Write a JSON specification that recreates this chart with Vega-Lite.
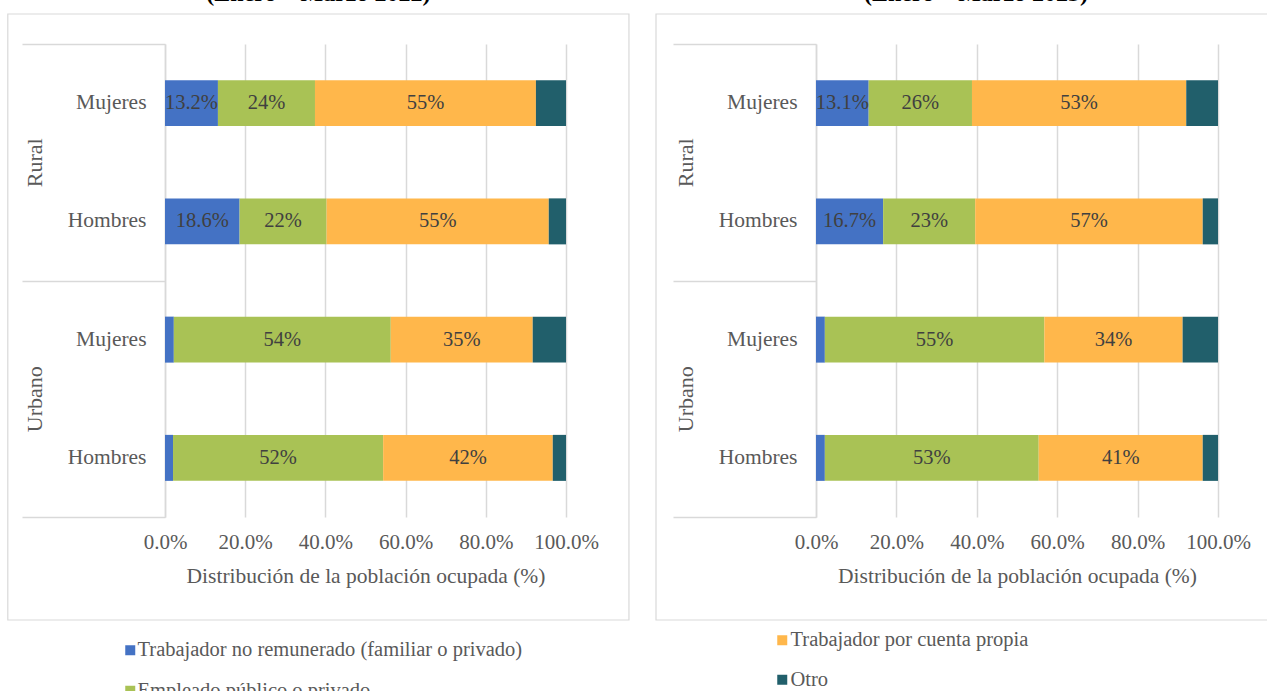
{
  "$schema": "https://vega.github.io/schema/vega-lite/v6.json",
  "padding": {"left": 7, "top": -18, "right": 0, "bottom": 0},
  "background": "white",
  "config": {"font": "Liberation Serif", "view": {"stroke": null}},
  "data": {"values": [
    {"anio": 2022, "area": "Rural", "sexo": "Mujeres", "cat": "Trabajador no remunerado (familiar o privado)", "v": 13.2},
    {"anio": 2022, "area": "Rural", "sexo": "Mujeres", "cat": "Empleado público o privado", "v": 24.2},
    {"anio": 2022, "area": "Rural", "sexo": "Mujeres", "cat": "Trabajador por cuenta propia", "v": 55.1},
    {"anio": 2022, "area": "Rural", "sexo": "Mujeres", "cat": "Otro", "v": 7.5},
    {"anio": 2022, "area": "Rural", "sexo": "Hombres", "cat": "Trabajador no remunerado (familiar o privado)", "v": 18.6},
    {"anio": 2022, "area": "Rural", "sexo": "Hombres", "cat": "Empleado público o privado", "v": 21.7},
    {"anio": 2022, "area": "Rural", "sexo": "Hombres", "cat": "Trabajador por cuenta propia", "v": 55.4},
    {"anio": 2022, "area": "Rural", "sexo": "Hombres", "cat": "Otro", "v": 4.3},
    {"anio": 2022, "area": "Urbano", "sexo": "Mujeres", "cat": "Trabajador no remunerado (familiar o privado)", "v": 2.2},
    {"anio": 2022, "area": "Urbano", "sexo": "Mujeres", "cat": "Empleado público o privado", "v": 54.1},
    {"anio": 2022, "area": "Urbano", "sexo": "Mujeres", "cat": "Trabajador por cuenta propia", "v": 35.4},
    {"anio": 2022, "area": "Urbano", "sexo": "Mujeres", "cat": "Otro", "v": 8.3},
    {"anio": 2022, "area": "Urbano", "sexo": "Hombres", "cat": "Trabajador no remunerado (familiar o privado)", "v": 2.0},
    {"anio": 2022, "area": "Urbano", "sexo": "Hombres", "cat": "Empleado público o privado", "v": 52.4},
    {"anio": 2022, "area": "Urbano", "sexo": "Hombres", "cat": "Trabajador por cuenta propia", "v": 42.3},
    {"anio": 2022, "area": "Urbano", "sexo": "Hombres", "cat": "Otro", "v": 3.3},
    {"anio": 2023, "area": "Rural", "sexo": "Mujeres", "cat": "Trabajador no remunerado (familiar o privado)", "v": 13.1},
    {"anio": 2023, "area": "Rural", "sexo": "Mujeres", "cat": "Empleado público o privado", "v": 25.7},
    {"anio": 2023, "area": "Rural", "sexo": "Mujeres", "cat": "Trabajador por cuenta propia", "v": 53.3},
    {"anio": 2023, "area": "Rural", "sexo": "Mujeres", "cat": "Otro", "v": 7.9},
    {"anio": 2023, "area": "Rural", "sexo": "Hombres", "cat": "Trabajador no remunerado (familiar o privado)", "v": 16.7},
    {"anio": 2023, "area": "Rural", "sexo": "Hombres", "cat": "Empleado público o privado", "v": 22.9},
    {"anio": 2023, "area": "Rural", "sexo": "Hombres", "cat": "Trabajador por cuenta propia", "v": 56.6},
    {"anio": 2023, "area": "Rural", "sexo": "Hombres", "cat": "Otro", "v": 3.8},
    {"anio": 2023, "area": "Urbano", "sexo": "Mujeres", "cat": "Trabajador no remunerado (familiar o privado)", "v": 2.2},
    {"anio": 2023, "area": "Urbano", "sexo": "Mujeres", "cat": "Empleado público o privado", "v": 54.6},
    {"anio": 2023, "area": "Urbano", "sexo": "Mujeres", "cat": "Trabajador por cuenta propia", "v": 34.4},
    {"anio": 2023, "area": "Urbano", "sexo": "Mujeres", "cat": "Otro", "v": 8.8},
    {"anio": 2023, "area": "Urbano", "sexo": "Hombres", "cat": "Trabajador no remunerado (familiar o privado)", "v": 2.2},
    {"anio": 2023, "area": "Urbano", "sexo": "Hombres", "cat": "Empleado público o privado", "v": 53.2},
    {"anio": 2023, "area": "Urbano", "sexo": "Hombres", "cat": "Trabajador por cuenta propia", "v": 40.8},
    {"anio": 2023, "area": "Urbano", "sexo": "Hombres", "cat": "Otro", "v": 3.8}
  ]},
  "spacing": 25,
  "resolve": {"scale": {"color": "independent"}, "legend": {"color": "independent"}},
  "hconcat": [
    {
      "width": 401, "height": 473,
      "title": {"text": "(Enero – Marzo 2022)", "fontSize": 24, "fontWeight": "bold", "font": "Liberation Serif", "color": "#000000", "offset": 7, "anchor": "middle", "frame": "bounds"},
      "transform": [
        {"filter": "datum.anio == 2022"},
        {"calculate": "indexof(['Trabajador no remunerado (familiar o privado)','Empleado público o privado','Trabajador por cuenta propia','Otro'], datum.cat)", "as": "ord"},
        {"calculate": "datum.area + '|' + datum.sexo", "as": "key"},
        {"stack": "v", "groupby": ["key"], "sort": [{"field": "ord", "order": "ascending"}], "as": ["x0", "x1"], "offset": "normalize"},
        {"calculate": "(datum.x0 + datum.x1) / 2", "as": "xm"},
        {"calculate": "datum.ord == 0 ? format(datum.v, '.1f') + '%' : format(datum.v, '.0f') + '%'", "as": "lbl"}
      ],
      "resolve": {"scale": {"x": "independent", "y": "independent"}, "axis": {"x": "independent", "y": "independent"}},
      "layer": [
        {
          "data": {"values": [{}]},
          "mark": {"type": "rect", "fill": "transparent", "stroke": "#d9d9d9", "strokeWidth": 1.2},
          "encoding": {
            "x": {"datum": -0.392, "type": "quantitative", "scale": {"domain": [0, 1], "nice": false, "zero": false}, "axis": null},
            "x2": {"datum": 1.157},
            "y": {"datum": 1.0634, "type": "quantitative", "scale": {"domain": [0, 1], "nice": false, "zero": false}, "axis": null},
            "y2": {"datum": -0.2178}
          }
        },
        {
          "mark": {"type": "point", "opacity": 0},
          "encoding": {
            "y": {"field": "area", "type": "nominal", "scale": {"domain": ["Rural", "Urbano"], "paddingInner": 0, "paddingOuter": 0},
              "axis": {"orient": "left", "title": null, "domain": false, "ticks": true, "tickBand": "extent", "tickExtra": true, "tickSize": 143, "tickColor": "#d9d9d9", "tickWidth": 1.5, "labelAngle": -90, "labelAlign": "center", "labelBaseline": "middle", "labelPadding": -12, "labelFontSize": 22, "labelColor": "#595959", "grid": false}}
          }
        },
        {
          "layer": [
            {
              "mark": {"type": "bar"},
              "encoding": {
                "y": {"field": "key", "type": "nominal", "scale": {"domain": ["Rural|Mujeres", "Rural|Hombres", "Urbano|Mujeres", "Urbano|Hombres"], "paddingInner": 0.611, "paddingOuter": 0.3055},
                  "axis": {"title": null, "orient": "left", "labelExpr": "split(datum.label, '|')[1]", "ticks": false, "domain": true, "domainColor": "#d9d9d9", "domainWidth": 1.5, "labelPadding": 19, "labelFontSize": 21.5, "labelColor": "#595959", "grid": false}},
                "x": {"field": "x0", "type": "quantitative", "scale": {"domain": [0, 1], "nice": false},
                  "axis": {"values": [0, 0.2, 0.4, 0.6, 0.8, 1], "format": ".1%", "grid": true, "gridColor": "#d9d9d9", "gridWidth": 1.5, "domain": false, "ticks": false, "labelFlush": false, "labelFontSize": 21, "labelColor": "#595959", "labelPadding": 14, "title": "Distribución de la población ocupada (%)", "titleFontSize": 21.5, "titleFontWeight": "normal", "titleColor": "#595959", "titlePadding": 13}},
                "x2": {"field": "x1"},
                "color": {"field": "cat", "type": "nominal",
                  "scale": {"domain": ["Trabajador no remunerado (familiar o privado)", "Empleado público o privado", "Trabajador por cuenta propia", "Otro"], "range": ["#4472C4", "#A9C255", "#FFB74B", "#215F6B"]},
                  "legend": {"values": ["Trabajador no remunerado (familiar o privado)", "Empleado público o privado"], "orient": "none", "legendX": -45, "legendY": 596, "padding": 0, "title": null, "direction": "vertical", "labelFontSize": 20.5, "labelColor": "#595959", "labelFont": "Liberation Serif", "symbolType": "square", "symbolSize": 100, "symbolStrokeWidth": 0, "rowPadding": 19.5, "labelOffset": -3, "labelLimit": 600}}
              }
            },
            {
              "transform": [{"filter": "datum.v >= 10"}],
              "mark": {"type": "text", "fontSize": 20.5, "color": "#404040", "font": "Liberation Serif"},
              "encoding": {
                "y": {"field": "key", "type": "nominal"},
                "x": {"field": "xm", "type": "quantitative"},
                "text": {"field": "lbl"}
              }
            }
          ]
        }
      ]
    },
    {
      "width": 402, "height": 473,
      "title": {"text": "(Enero – Marzo 2023)", "fontSize": 24, "fontWeight": "bold", "font": "Liberation Serif", "color": "#000000", "offset": 7, "anchor": "middle", "frame": "bounds"},
      "transform": [
        {"filter": "datum.anio == 2023"},
        {"calculate": "indexof(['Trabajador no remunerado (familiar o privado)','Empleado público o privado','Trabajador por cuenta propia','Otro'], datum.cat)", "as": "ord"},
        {"calculate": "datum.area + '|' + datum.sexo", "as": "key"},
        {"stack": "v", "groupby": ["key"], "sort": [{"field": "ord", "order": "ascending"}], "as": ["x0", "x1"], "offset": "normalize"},
        {"calculate": "(datum.x0 + datum.x1) / 2", "as": "xm"},
        {"calculate": "datum.ord == 0 ? format(datum.v, '.1f') + '%' : format(datum.v, '.0f') + '%'", "as": "lbl"}
      ],
      "resolve": {"scale": {"x": "independent", "y": "independent"}, "axis": {"x": "independent", "y": "independent"}},
      "layer": [
        {
          "data": {"values": [{}]},
          "mark": {"type": "rect", "fill": "transparent", "stroke": "#d9d9d9", "strokeWidth": 1.2},
          "encoding": {
            "x": {"datum": -0.398, "type": "quantitative", "scale": {"domain": [0, 1], "nice": false, "zero": false}, "axis": null},
            "x2": {"datum": 1.194},
            "y": {"datum": 1.0634, "type": "quantitative", "scale": {"domain": [0, 1], "nice": false, "zero": false}, "axis": null},
            "y2": {"datum": -0.2178}
          }
        },
        {
          "mark": {"type": "point", "opacity": 0},
          "encoding": {
            "y": {"field": "area", "type": "nominal", "scale": {"domain": ["Rural", "Urbano"], "paddingInner": 0, "paddingOuter": 0},
              "axis": {"orient": "left", "title": null, "domain": false, "ticks": true, "tickBand": "extent", "tickExtra": true, "tickSize": 143, "tickColor": "#d9d9d9", "tickWidth": 1.5, "labelAngle": -90, "labelAlign": "center", "labelBaseline": "middle", "labelPadding": -12, "labelFontSize": 22, "labelColor": "#595959", "grid": false}}
          }
        },
        {
          "layer": [
            {
              "mark": {"type": "bar"},
              "encoding": {
                "y": {"field": "key", "type": "nominal", "scale": {"domain": ["Rural|Mujeres", "Rural|Hombres", "Urbano|Mujeres", "Urbano|Hombres"], "paddingInner": 0.611, "paddingOuter": 0.3055},
                  "axis": {"title": null, "orient": "left", "labelExpr": "split(datum.label, '|')[1]", "ticks": false, "domain": true, "domainColor": "#d9d9d9", "domainWidth": 1.5, "labelPadding": 19, "labelFontSize": 21.5, "labelColor": "#595959", "grid": false}},
                "x": {"field": "x0", "type": "quantitative", "scale": {"domain": [0, 1], "nice": false},
                  "axis": {"values": [0, 0.2, 0.4, 0.6, 0.8, 1], "format": ".1%", "grid": true, "gridColor": "#d9d9d9", "gridWidth": 1.5, "domain": false, "ticks": false, "labelFlush": false, "labelFontSize": 21, "labelColor": "#595959", "labelPadding": 14, "title": "Distribución de la población ocupada (%)", "titleFontSize": 21.5, "titleFontWeight": "normal", "titleColor": "#595959", "titlePadding": 13}},
                "x2": {"field": "x1"},
                "color": {"field": "cat", "type": "nominal",
                  "scale": {"domain": ["Trabajador no remunerado (familiar o privado)", "Empleado público o privado", "Trabajador por cuenta propia", "Otro"], "range": ["#4472C4", "#A9C255", "#FFB74B", "#215F6B"]},
                  "legend": {"values": ["Trabajador por cuenta propia", "Otro"], "orient": "none", "legendX": -44, "legendY": 586, "padding": 0, "title": null, "direction": "vertical", "labelFontSize": 20.5, "labelColor": "#595959", "labelFont": "Liberation Serif", "symbolType": "square", "symbolSize": 100, "symbolStrokeWidth": 0, "rowPadding": 18.5, "labelOffset": -2, "labelLimit": 600}}
              }
            },
            {
              "transform": [{"filter": "datum.v >= 10"}],
              "mark": {"type": "text", "fontSize": 20.5, "color": "#404040", "font": "Liberation Serif"},
              "encoding": {
                "y": {"field": "key", "type": "nominal"},
                "x": {"field": "xm", "type": "quantitative"},
                "text": {"field": "lbl"}
              }
            }
          ]
        }
      ]
    }
  ]
}
